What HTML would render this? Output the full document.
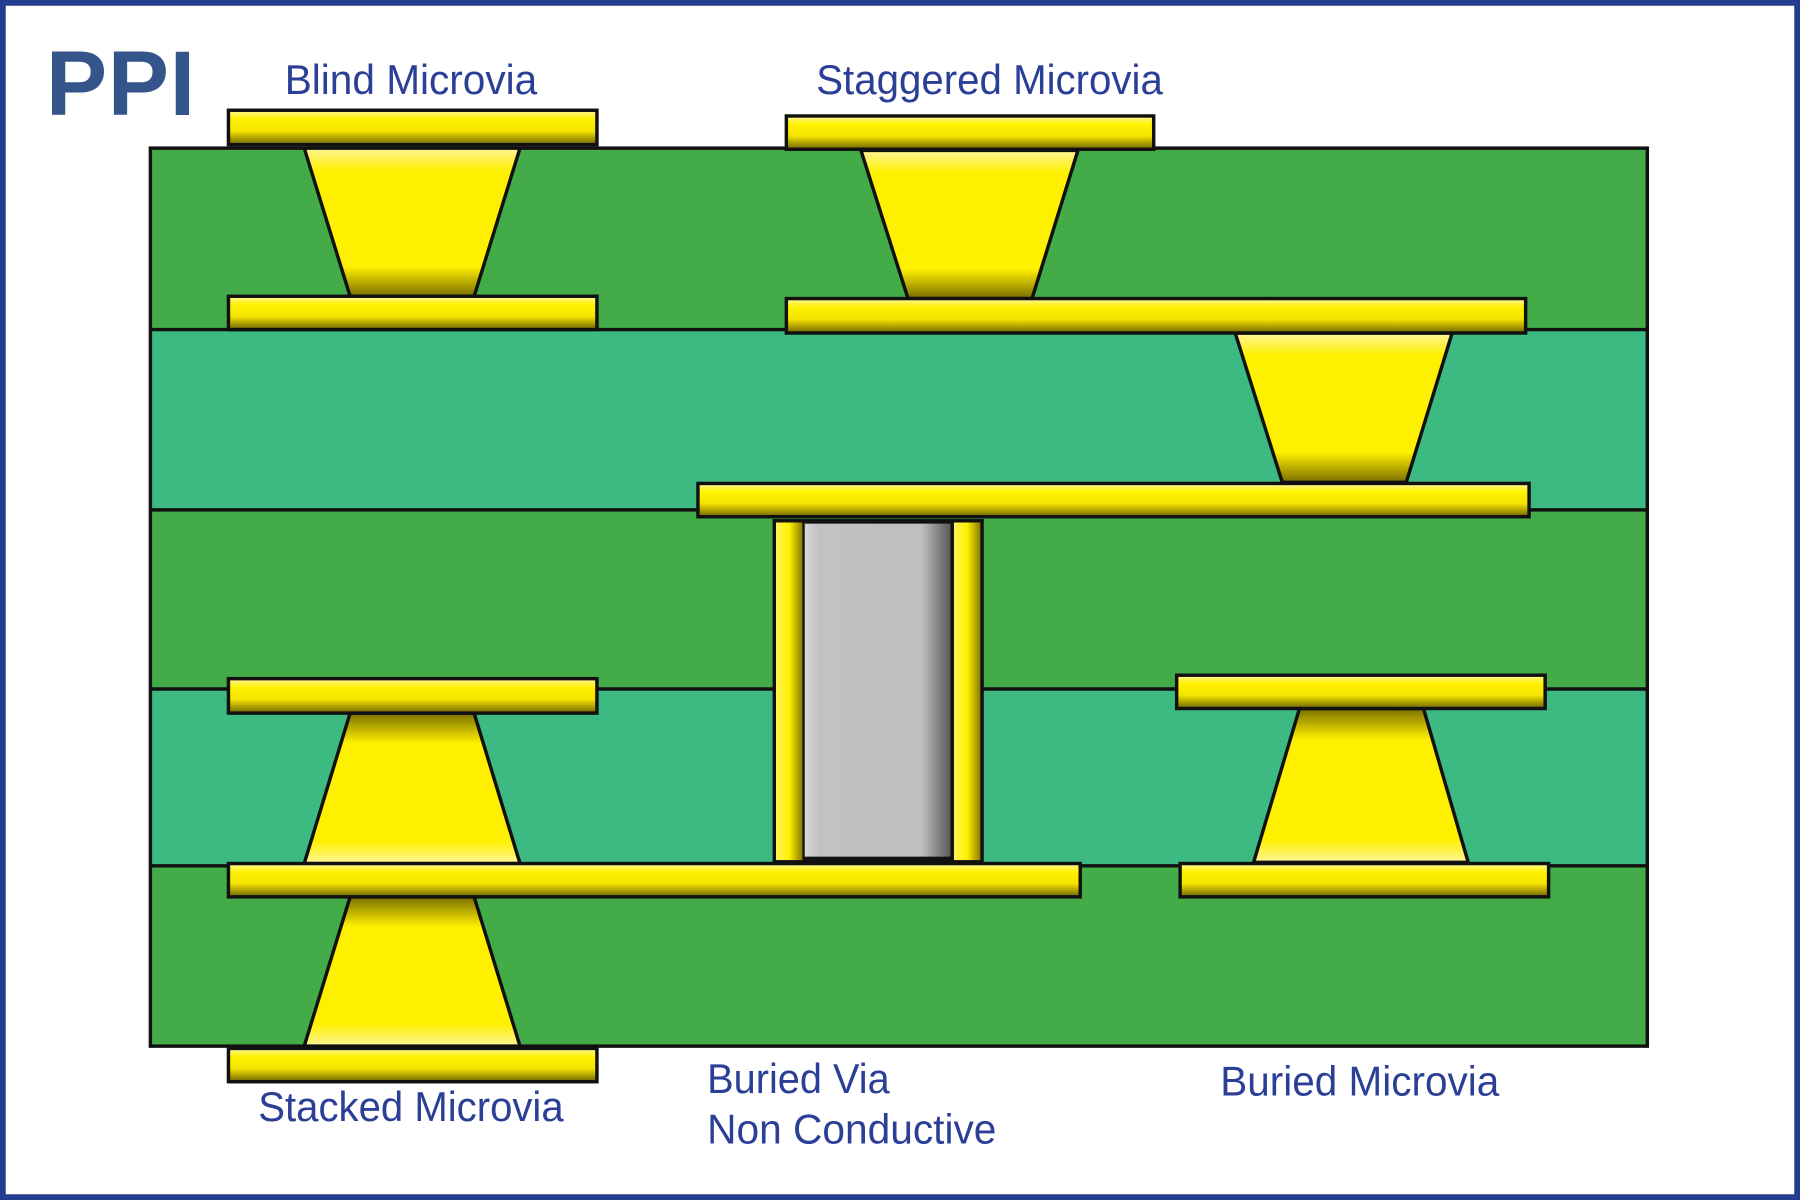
<!DOCTYPE html>
<html><head><meta charset="utf-8"><style>
html,body{margin:0;padding:0;background:#fff}
svg{display:block}
text{font-family:"Liberation Sans Narrow","Liberation Sans",sans-serif;fill:#2a3f95}
</style></head><body>
<svg width="1800" height="1200" viewBox="0 0 1568 1045" preserveAspectRatio="none" xmlns="http://www.w3.org/2000/svg">
<defs>
<linearGradient id="pad" x1="0" y1="0" x2="0" y2="1">
<stop offset="0" stop-color="#fff7a0"/><stop offset="0.25" stop-color="#fff200"/><stop offset="0.6" stop-color="#f5e400"/><stop offset="1" stop-color="#6e6400"/>
</linearGradient>
<linearGradient id="trapD" x1="0" y1="0" x2="0" y2="1">
<stop offset="0" stop-color="#fff59a"/><stop offset="0.15" stop-color="#fff000"/><stop offset="0.8" stop-color="#fff000"/><stop offset="1" stop-color="#7a6e00"/>
</linearGradient>
<linearGradient id="trapU" x1="0" y1="0" x2="0" y2="1">
<stop offset="0" stop-color="#7a6e00"/><stop offset="0.2" stop-color="#fff000"/><stop offset="0.85" stop-color="#fff000"/><stop offset="1" stop-color="#fff59a"/>
</linearGradient>
<linearGradient id="side" x1="0" y1="0" x2="1" y2="0">
<stop offset="0" stop-color="#fff35a"/><stop offset="0.5" stop-color="#fff000"/><stop offset="1" stop-color="#8a7d00"/>
</linearGradient>
<linearGradient id="gray" x1="0" y1="0" x2="1" y2="0">
<stop offset="0" stop-color="#d8d8d8"/><stop offset="0.1" stop-color="#c2c2c2"/><stop offset="0.8" stop-color="#bfbfbf"/><stop offset="1" stop-color="#5a5a5a"/>
</linearGradient>
</defs>
<rect x="2.5" y="2.5" width="1563" height="1040" fill="#fff" stroke="#233d8f" stroke-width="5"/>
<rect x="131" y="129" width="1304" height="158" fill="#43ac48"/>
<rect x="131" y="287" width="1304" height="157" fill="#3db982"/>
<rect x="131" y="444" width="1304" height="156" fill="#43ac48"/>
<rect x="131" y="600" width="1304" height="154" fill="#3db982"/>
<rect x="131" y="754" width="1304" height="157" fill="#43ac48"/>
<g stroke="#111" stroke-width="3" fill="none">
<rect x="131" y="129" width="1304" height="782"/>
<line x1="131" y1="287" x2="1435" y2="287"/>
<line x1="131" y1="444" x2="1435" y2="444"/>
<line x1="131" y1="600" x2="1435" y2="600"/>
<line x1="131" y1="754" x2="1435" y2="754"/>
</g>
<g stroke="#111" stroke-width="3">
<polygon points="265,129 453,129 413,258 305,258" fill="url(#trapD)"/>
<polygon points="750,131 939,131 899,260 791,260" fill="url(#trapD)"/>
<polygon points="1076,290 1265,290 1225,420 1117,420" fill="url(#trapD)"/>
<polygon points="305,621 413,621 453,752 265,752" fill="url(#trapU)"/>
<polygon points="305,781 413,781 453,911 265,911" fill="url(#trapU)"/>
<polygon points="1132,617 1240,617 1279,751 1092,751" fill="url(#trapU)"/>
</g>
<rect x="673" y="452" width="184" height="300" fill="#111"/>
<rect x="676" y="455" width="23" height="294" fill="url(#side)"/>
<rect x="831" y="455" width="23" height="294" fill="url(#side)"/>
<rect x="701" y="456" width="127" height="290" fill="url(#gray)"/>
<g stroke="#111" stroke-width="3" fill="url(#pad)">
<rect x="199" y="96" width="321" height="30"/>
<rect x="199" y="258" width="321" height="29"/>
<rect x="685" y="101" width="320" height="29"/>
<rect x="685" y="260" width="644" height="30"/>
<rect x="608" y="421" width="724" height="29"/>
<rect x="199" y="591" width="321" height="30"/>
<rect x="199" y="752" width="742" height="29"/>
<rect x="199" y="913" width="321" height="29"/>
<rect x="1025" y="588" width="321" height="29"/>
<rect x="1028" y="752" width="321" height="29"/>
</g>
<text x="40" y="100" font-weight="bold" font-size="80" textLength="130" lengthAdjust="spacing" style="fill:#34558b">PPI</text>
<text x="248" y="82" font-size="36" textLength="220" lengthAdjust="spacingAndGlyphs">Blind Microvia</text>
<text x="711" y="82" font-size="36" textLength="302" lengthAdjust="spacingAndGlyphs">Staggered Microvia</text>
<text x="225" y="976" font-size="36" textLength="266" lengthAdjust="spacingAndGlyphs">Stacked Microvia</text>
<text x="616" y="952" font-size="36" textLength="159" lengthAdjust="spacingAndGlyphs">Buried Via</text>
<text x="616" y="996" font-size="36" textLength="252" lengthAdjust="spacingAndGlyphs">Non Conductive</text>
<text x="1063" y="954" font-size="36" textLength="243" lengthAdjust="spacingAndGlyphs">Buried Microvia</text>
</svg>
</body></html>
